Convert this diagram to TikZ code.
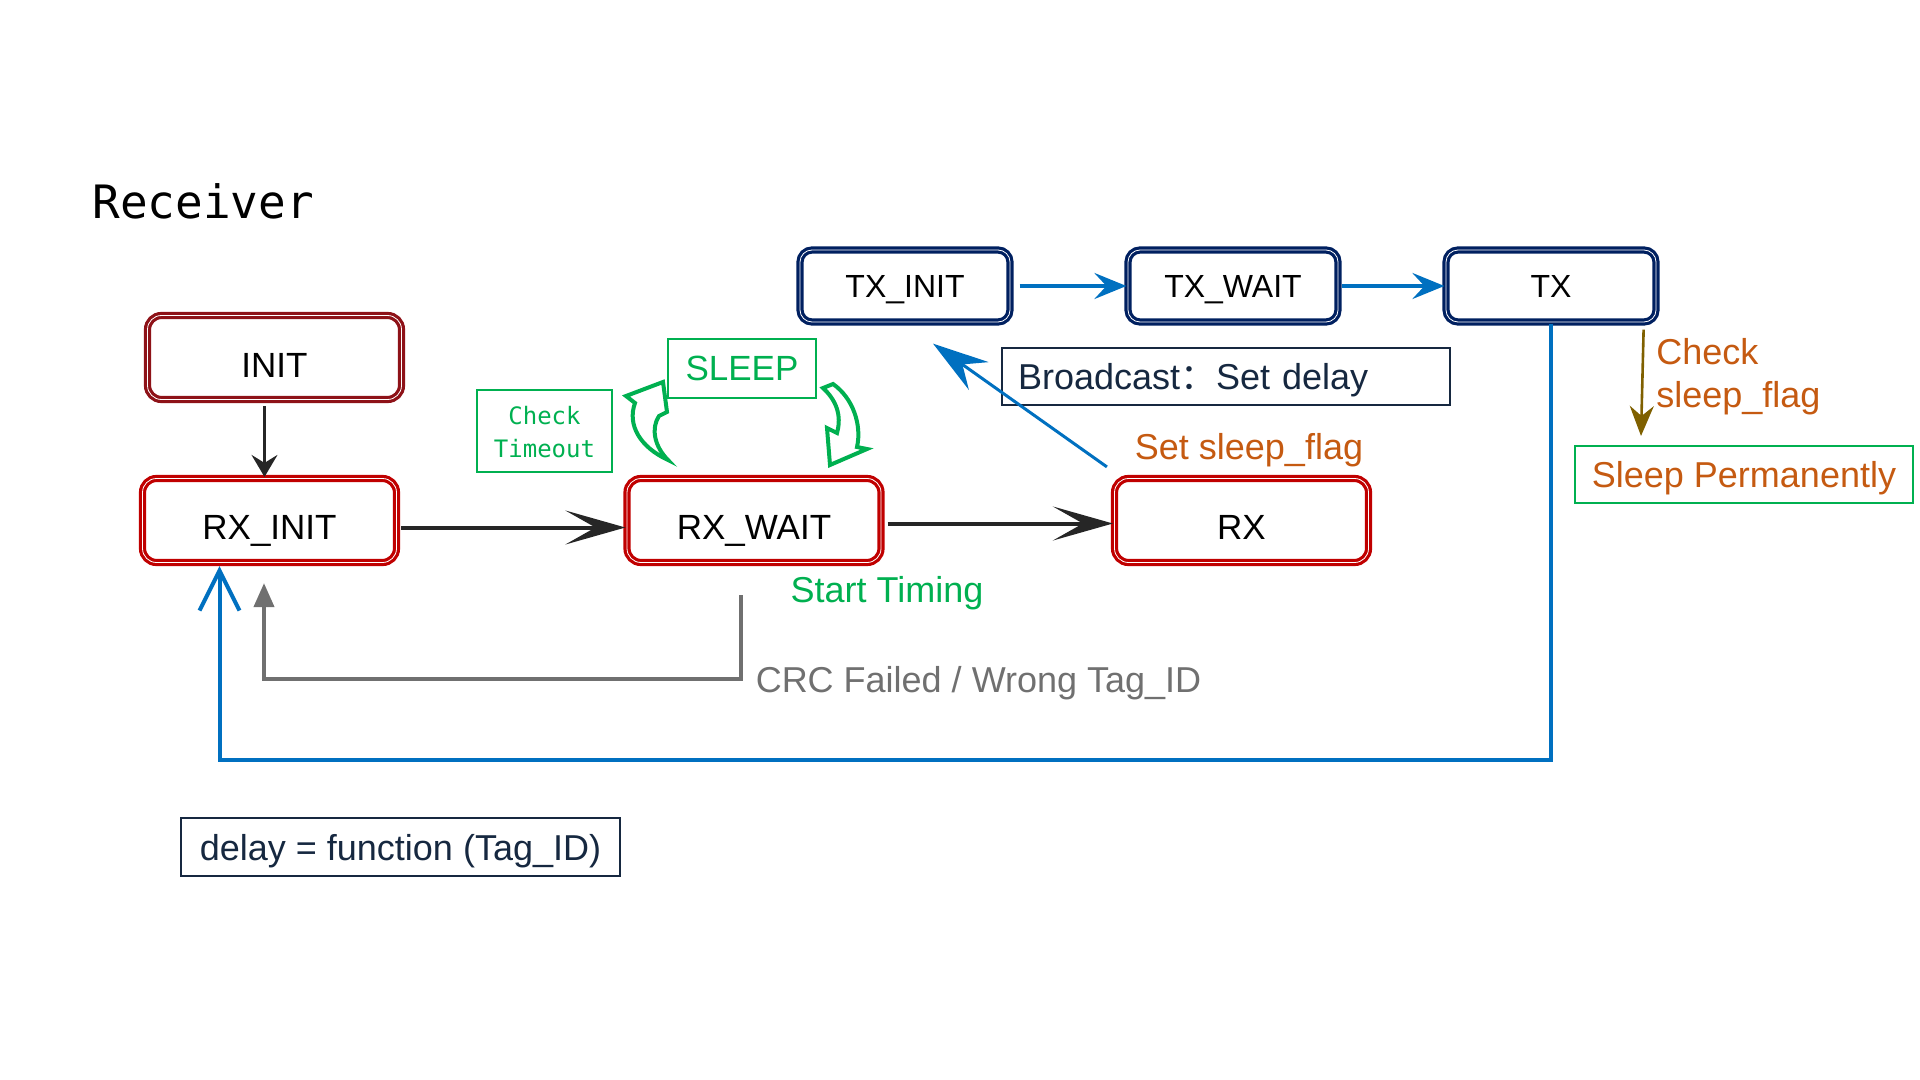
\documentclass[tikz,border=0pt]{standalone}
\usepackage{fontspec}
\setmainfont{Liberation Sans}
\newfontfamily\monofont{DejaVu Sans Mono}
\newfontfamily\cjk{Noto Sans CJK SC}
\usetikzlibrary{arrows.meta}
\definecolor{initred}{RGB}{142,18,24}
\definecolor{rxred}{RGB}{192,0,0}
\definecolor{txnavy}{RGB}{0,32,96}
\definecolor{lblue}{RGB}{0,112,192}
\definecolor{lgreen}{RGB}{0,176,80}
\definecolor{lorange}{RGB}{197,90,17}
\definecolor{lbrown}{RGB}{127,96,0}
\definecolor{lgray}{RGB}{112,112,112}
\definecolor{ldark}{RGB}{38,38,38}
\definecolor{lnavytext}{RGB}{22,40,64}
\begin{document}
\begin{tikzpicture}[x=0.5pt,y=-0.5pt,
  font=\fontsize{18}{21.5}\selectfont,
  statebox/.style={draw=#1, double=white, line width=1.6pt, double distance=0.4pt,
    rounded corners=7pt, minimum width=127pt, minimum height=42pt, inner sep=0pt,
    text=black, font=\fontsize{17.5}{21}\selectfont, text depth=0pt, text height=18.5pt},
  txbox/.style={statebox=txnavy, minimum width=105pt, minimum height=36pt,
    rounded corners=6pt, font=\fontsize{16}{19}\selectfont, text height=11.8pt},
  greenbox/.style={draw=lgreen, line width=1pt, inner sep=0pt},
  plainbox/.style={draw=lnavytext, line width=0.8pt, text=lnavytext, text depth=0pt},
  lbl/.style={inner sep=0pt, anchor=base},
  bigarrow/.style={ldark, line width=2pt, -{Stealth[length=30pt,width=17pt,inset=15pt]}},
  bluearrow/.style={lblue, line width=2pt, -{Stealth[length=16pt,width=13pt,inset=6pt]}},
  greencurl/.style={lgreen, line width=2pt, fill=white, line join=miter}
]
\useasboundingbox (0,0) rectangle (1920,1080);

% title
\node[inner sep=0pt, anchor=base west, font=\monofont\fontsize{23}{28}\selectfont] (REC) at (92,219) {Receiver};

% state boxes
\node[statebox=initred, text height=20pt] (INIT) at (274.5,357.5) {INIT};
\node[statebox=rxred] (RXI) at (269.5,520.5) {RX\_INIT};
\node[statebox=rxred] (RXW) at (754,520.5) {RX\_WAIT};
\node[statebox=rxred] (RX) at (1241.5,520.5) {RX};
\node[txbox] (TXI) at (905,286) {TX\_INIT};
\node[txbox] (TXW) at (1233,286) {TX\_WAIT};
\node[txbox] (TX) at (1551,286) {TX};

% green boxes
\node[greenbox, minimum width=67.5pt, minimum height=41pt, text=lgreen, align=center,
  font=\monofont\fontsize{12}{16.5}\selectfont] (CT) at (544.5,431) {\rule{0pt}{10pt}Check\\Timeout};
\node[greenbox, minimum width=74pt, minimum height=29.5pt, text=lgreen,
  font=\fontsize{17.5}{20}\selectfont] (SLEEP) at (742,368.5) {SLEEP};
\node[greenbox, minimum width=169pt, minimum height=28.5pt, text=lorange, text depth=0pt] (SP) at (1744,474.5) {Sleep Permanently};

% plain boxes
\node[plainbox, text width=208pt, inner xsep=8pt, minimum height=28.5pt, align=left] (BC) at (1226,376.5) {Broadcast{\cjk ：}Set delay};
\node[plainbox, minimum width=219.5pt, minimum height=29pt] (DF) at (400.5,847) {delay = function (Tag\_ID)};

% labels
\node[lbl, text=lorange] (SSF) at (1249,459) {Set sleep\_flag};
\node[lbl, text=lgreen] (ST) at (887,602) {Start Timing};
\node[lbl, text=lgray] (CRC) at (978.5,692) {CRC Failed / Wrong Tag\_ID};
\node[inner sep=0pt, anchor=base west, text=lorange, align=left] (CSF) at (1656,408) {Check\\sleep\_flag};

% connectors
\draw[ldark, line width=1.2pt, -{Stealth[length=11pt,width=13pt,inset=4pt]}]
  ([shift={(-10,5)}]INIT.south) -- ([shift={(-5,0)}]RXI.north);
\draw[bigarrow] ([shift={(3,7)}]RXI.east) -- ([shift={(0,7)}]RXW.west);
\draw[bigarrow] ([shift={(5,3)}]RXW.east) -- ([shift={(0,3)}]RX.west);
\draw[bluearrow] ([xshift=4pt]TXI.east) -- (TXW.west);
\draw[bluearrow] ([xshift=1pt]TXW.east) -- (TX.west);
\draw[lblue, line width=1.5pt, -{Stealth[length=28pt,width=17pt,inset=10pt]}]
  ([shift={(-6,-10)}]RX.north west) -- ([shift={(28,20)}]TXI.south);
\draw[lgray, line width=2pt, -{Triangle[length=12pt,width=10pt]}]
  ([shift={(-13,31)}]RXW.south) -- ++(0,84) -| ([shift={(-5.5,19)}]RXI.south);
\draw[lblue, line width=2pt, -{Straight Barb[length=20pt,width=20pt]}]
  (TX.south) -- ++(0,436) -| ([shift={(-50,2)}]RXI.south);
\draw[lbrown, line width=1.3pt, -{Stealth[length=15pt,width=12pt,inset=5pt]}]
  ([shift={(-14,6)}]TX.south east) -- ([shift={(67,-9)}]SP.north west);

% green curved arrows around SLEEP
\draw[greencurl] (668,460) .. controls (640,447) and (627,425) .. (635,403)
  -- (626,396) -- (663,382) -- (667,412) -- (659,416)
  .. controls (651,428) and (654,446) .. (668,460) -- cycle;
\draw[greencurl] (823,388) -- (833,384) .. controls (853,398) and (862,425) .. (857,447)
  -- (867,449) -- (830,465) -- (827,428) -- (837,433)
  .. controls (842,415) and (836,400) .. (823,388) -- cycle;
\end{tikzpicture}
\end{document}
